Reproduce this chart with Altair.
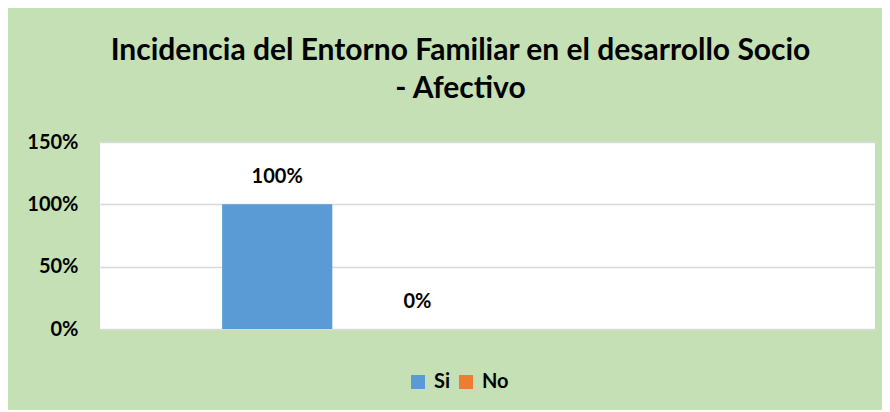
import altair as alt
import pandas as pd

series = ["Si", "No"]
values = [1.0, 0.0]
labels = ["100%", "0%"]
slots = ["Si", "No", " ", "  "]
colors = ["#5B9BD5", "#ED7D31"]
y_ticks = [0, 0.5, 1.0, 1.5]

df = pd.DataFrame({"serie": series, "valor": values, "etiqueta": labels})

FONT = "Lato"

x = alt.X("serie:N", scale=alt.Scale(domain=slots, paddingInner=0.214, paddingOuter=0.871),
          axis=None, title=None)

bars = alt.Chart(df).mark_bar().encode(
    x=x,
    y=alt.Y("valor:Q", scale=alt.Scale(domain=[0, 1.5], nice=False),
            axis=alt.Axis(values=y_ticks, format="%", title=None, ticks=False, domain=False,
                          labelFont=FONT, labelFontSize=20, labelFontWeight="bold",
                          labelColor="#000000", labelPadding=22,
                          gridColor="#D9D9D9", gridWidth=1.5)),
    color=alt.Color("serie:N", scale=alt.Scale(domain=series, range=colors),
                    legend=alt.Legend(title=None, orient="none", direction="horizontal",
                                      legendX=308, legendY=230, symbolType="square",
                                      symbolSize=196, symbolStrokeWidth=0,
                                      labelFont=FONT, labelFontSize=20, labelFontWeight="bold",
                                      labelColor="#000000", columnPadding=5, labelOffset=6)),
)

text = alt.Chart(df).mark_text(font=FONT, fontSize=20, fontWeight="bold", baseline="bottom",
                               dy=-17, color="#000000").encode(
    x=x,
    y="valor:Q",
    text="etiqueta:N",
)

chart = alt.layer(bars, text).properties(
    width=775,
    height=187,
    autosize=alt.AutoSizeParams(type="none"),
    padding={"left": 92, "top": 134, "right": 7, "bottom": 81},
    background="#C5E0B4",
    title=alt.Title(
        text=["Incidencia del Entorno Familiar en el desarrollo Socio", "- Afectivo"],
        font=FONT, fontSize=30, fontWeight="bold", color="#000000",
        lineHeight=38, anchor="middle", frame="group", dx=-27, offset=28,
    ),
).configure_view(fill="#FFFFFF", stroke=None)

chart.save("out.html", embed_options={"renderer": "svg", "actions": False})
